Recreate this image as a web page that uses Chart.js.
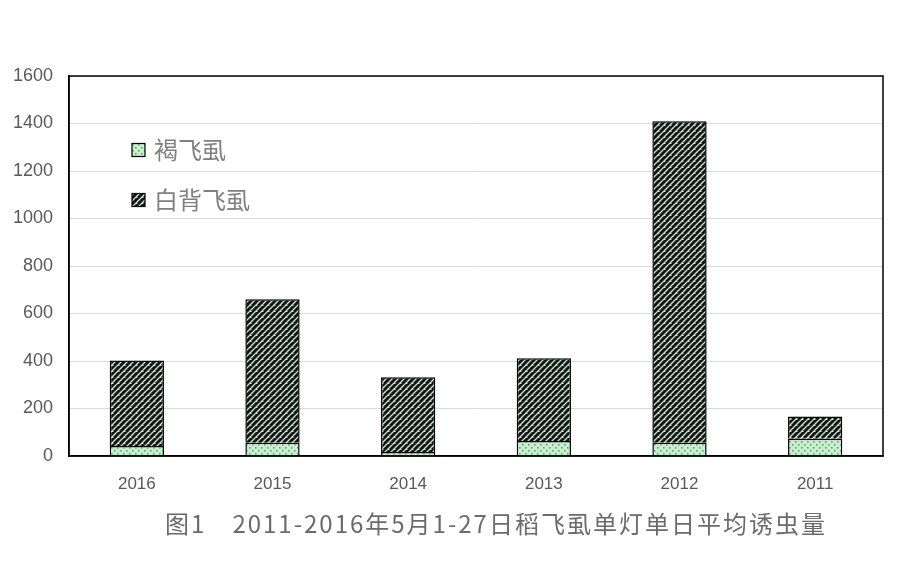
<!DOCTYPE html>
<html>
<head>
<meta charset="utf-8">
<script src="https://cdn.jsdelivr.net/npm/chart.js@4.4.0/dist/chart.umd.min.js"></script>
<style>
  html, body { margin: 0; padding: 0; background: #fff; }
  #wrap { width: 905px; height: 561px; }
</style>
</head>
<body>
<div id="wrap"><canvas id="chart" width="905" height="561"></canvas></div>
<script>
// Data
const years = ["2016", "2015", "2014", "2013", "2012", "2011"];
const brownPH = [42, 56, 17, 63, 56, 73];          // 褐飞虱
const whiteBackedPH = [360, 604, 315, 349, 1354, 93]; // 白背飞虱
const yTicks = [0, 200, 400, 600, 800, 1000, 1200, 1400, 1600];
const titleText = "图1　2011-2016年5月1-27日稻飞虱单灯单日平均诱虫量";

// Patterns like the Excel fills
function dotPattern() {
  const c = document.createElement("canvas");
  c.width = 6; c.height = 6;
  const g = c.getContext("2d");
  g.fillStyle = "#c6efce";
  g.fillRect(0, 0, 6, 6);
  g.fillStyle = "#6f9c78";
  g.fillRect(0, 0, 1.6, 1.6);
  g.fillRect(3, 3, 1.6, 1.6);
  return g.createPattern(c, "repeat");
}

function stripePattern() {
  const s = 6;
  const c = document.createElement("canvas");
  c.width = s; c.height = s;
  const g = c.getContext("2d");
  g.fillStyle = "#c6e6cf";
  g.fillRect(0, 0, s, s);
  g.strokeStyle = "#151515";
  g.lineWidth = 3;
  g.beginPath();
  for (let k = -s; k <= 2 * s; k += s) {
    g.moveTo(k - s, s);
    g.lineTo(k + s, -s);
  }
  g.stroke();
  return g.createPattern(c, "repeat");
}

const brownFill = dotPattern();
const whiteFill = stripePattern();

// Frame, legend and caption
const extras = {
  id: "extras",
  afterDraw(chart) {
    const ctx = chart.ctx;
    const a = chart.chartArea;
    ctx.save();
    ctx.strokeStyle = "#000";
    ctx.lineWidth = 1.5;
    ctx.strokeRect(a.left, a.top, a.right - a.left, a.bottom - a.top);

    // legend
    const items = [
      { label: "褐飞虱", fill: brownFill, y: 150 },
      { label: "白背飞虱", fill: whiteFill, y: 200 }
    ];
    ctx.font = "24px 'Noto Sans CJK SC'";
    ctx.textBaseline = "middle";
    items.forEach((it) => {
      ctx.fillStyle = it.fill;
      ctx.fillRect(132, it.y - 6.5, 13, 13);
      ctx.strokeStyle = "#000";
      ctx.lineWidth = 1.2;
      ctx.strokeRect(132, it.y - 6.5, 13, 13);
      ctx.fillStyle = "#808080";
      ctx.fillText(it.label, 154, it.y);
    });

    // caption
    ctx.font = "24px 'Noto Sans CJK SC'";
    ctx.letterSpacing = "2px";
    ctx.fillStyle = "#6b6b6b";
    ctx.textAlign = "center";
    ctx.fillText(titleText, 496, 524);
    ctx.restore();
  }
};

new Chart(document.getElementById("chart"), {
  type: "bar",
  data: {
    labels: years,
    datasets: [
      {
        label: "褐飞虱",
        data: brownPH,
        backgroundColor: brownFill,
        borderColor: "#000",
        borderWidth: 1.5,
        barPercentage: 0.4,
        categoryPercentage: 1
      },
      {
        label: "白背飞虱",
        data: whiteBackedPH,
        backgroundColor: whiteFill,
        borderColor: "#000",
        borderWidth: 1.5,
        barPercentage: 0.4,
        categoryPercentage: 1
      }
    ]
  },
  options: {
    responsive: false,
    animation: false,
    layout: { padding: { top: 76, right: 22, bottom: 60, left: 0 } },
    plugins: {
      legend: { display: false },
      tooltip: { enabled: false }
    },
    scales: {
      x: {
        stacked: true,
        grid: { display: false },
        border: { color: "#000", width: 1.5 },
        ticks: {
          color: "#595959",
          font: { family: "Liberation Sans", size: 17 },
          padding: 10
        },
        afterFit(scale) { scale.height = 45; }
      },
      y: {
        stacked: true,
        min: 0,
        max: 1600,
        afterBuildTicks(scale) {
          scale.ticks = yTicks.map((v) => ({ value: v }));
        },
        grid: { color: "#d9d9d9", lineWidth: 1, drawTicks: false },
        border: { color: "#000", width: 1.5 },
        ticks: {
          color: "#595959",
          font: { family: "Liberation Sans", size: 18 },
          padding: 16,
          callback: (v) => String(v)
        },
        afterFit(scale) { scale.width = 69; }
      }
    }
  },
  plugins: [extras]
});
</script>
</body>
</html>
